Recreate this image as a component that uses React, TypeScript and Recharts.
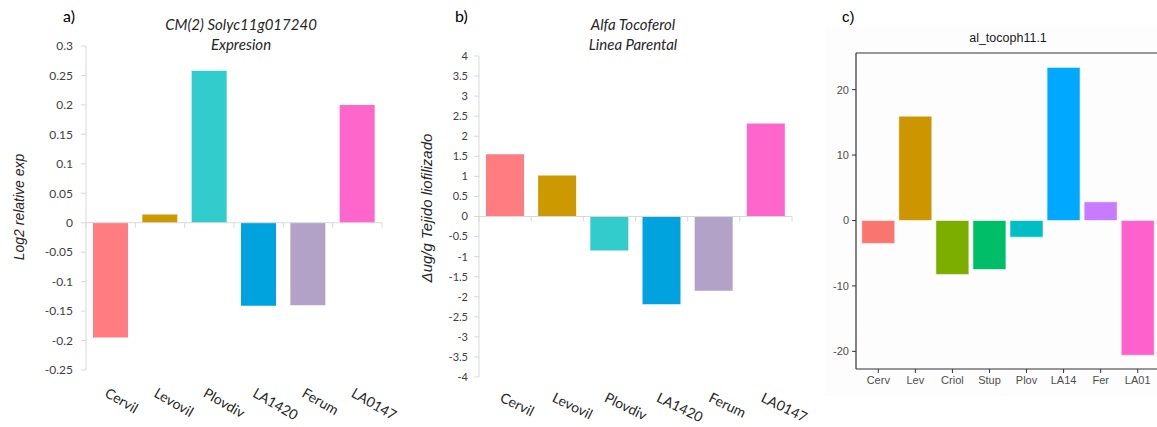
import React from 'react';
import { BarChart, Bar, XAxis, YAxis, Cell, ReferenceLine } from 'recharts';

// ---------- Panel a ----------
const catsA = ['Cervil', 'Levovil', 'Plovdiv', 'LA1420', 'Ferum', 'LA0147'];
const valsA = [-0.195, 0.014, 0.258, -0.141, -0.14, 0.2];
const colorsA = ['#FF7C80', '#CC9900', '#33CCCC', '#00A3DD', '#B3A2C7', '#FF66CC'];
const ticksA = [0.3, 0.25, 0.2, 0.15, 0.1, 0.05, 0, -0.05, -0.1, -0.15, -0.2, -0.25];
const tickLabelsA = ['0.3', '0.25', '0.2', '0.15', '0.1', '0.05', '0', '-0.05', '-0.1', '-0.15', '-0.2', '-0.25'];

// ---------- Panel b ----------
const catsB = ['Cervil', 'Levovil', 'Plovdiv', 'LA1420', 'Ferum', 'LA0147'];
const valsB = [1.55, 1.02, -0.85, -2.19, -1.85, 2.32];
const colorsB = ['#FF7C80', '#CC9900', '#33CCCC', '#00A3DD', '#B3A2C7', '#FF66CC'];
const ticksB = [4, 3.5, 3, 2.5, 2, 1.5, 1, 0.5, 0, -0.5, -1, -1.5, -2, -2.5, -3, -3.5, -4];
const tickLabelsB = ['4', '3.5', '3', '2.5', '2', '1.5', '1', '0.5', '0', '-0.5', '-1', '-1.5', '-2', '-2.5', '-3', '-3.5', '-4'];

// ---------- Panel c ----------
const catsC = ['Cerv', 'Lev', 'Criol', 'Stup', 'Plov', 'LA14', 'Fer', 'LA01'];
const valsC = [-3.5, 15.95, -8.25, -7.5, -2.55, 23.4, 2.85, -20.6];
const colorsC = ['#F8766D', '#CD9600', '#7CAE00', '#00BE67', '#00BFC4', '#00A9FF', '#C77CFF', '#FF61CC'];
const ticksC = [-20, -10, 0, 10, 20];
const domainC = [-22.7, 25.6];

const dataA = catsA.map((name, i) => ({ name, value: valsA[i] }));
const dataB = catsB.map((name, i) => ({ name, value: valsB[i] }));
const dataC = catsC.map((name, i) => ({ name, value: valsC[i] }));

const EXCEL_FONT = 'Lato, "Open Sans", sans-serif';
const ARIAL = '"Liberation Sans", Arial, sans-serif';
const AXIS_GRAY = '#D9D9D9';

const makeZeroLine = (n: number) => (props: any) => {
  const { x1, y1, x2, y2 } = props;
  const step = (x2 - x1) / n;
  return (
    <g>
      <line x1={x1} y1={y1} x2={x2} y2={y2} stroke={AXIS_GRAY} strokeWidth={1} />
      {Array.from({ length: n + 1 }, (_, i) => (
        <line key={i} x1={x1 + i * step} x2={x1 + i * step} y1={y1} y2={y1 + 5} stroke={AXIS_GRAY} strokeWidth={1} />
      ))}
    </g>
  );
};

const makeRotTick = (dx: number, dy: number, angle: number, size: number) => (props: any) => {
  const { x, y, payload } = props;
  const tx = x + dx;
  const ty = y + dy;
  return (
    <text x={tx} y={ty} transform={`rotate(${angle} ${tx} ${ty})`} textAnchor="start" fontFamily={EXCEL_FONT} fontSize={size} fill="#262626">
      {payload.value}
    </text>
  );
};

const makeYTickFmt = (ticks: number[], labels: string[]) => (v: number) => {
  const idx = ticks.findIndex((t) => Math.abs(t - v) < 1e-9);
  return idx >= 0 ? labels[idx] : String(v);
};

export default function App() {
  return (
    <div style={{ position: 'fixed', left: 0, top: 0, width: 1157, height: 427, overflow: 'hidden', background: '#fff' }}>
      {/* faint ggplot background for panel c */}
      <div style={{ position: 'absolute', left: 825, top: 27, width: 340, height: 369, background: '#FDFDFD' }} />

      {/* Panel a */}
      <div style={{ position: 'absolute', left: 0, top: 0 }}>
        <BarChart width={400} height={427} data={dataA} margin={{ top: 46, right: 18, bottom: 0, left: 0 }} style={{ overflow: 'visible' }}>
          <XAxis
            dataKey="name"
            height={57}
            axisLine={false}
            tickLine={false}
            tickSize={0}
            tickMargin={0}
            interval={0}
            tick={makeRotTick(-7, 26, 30, 14)}
          />
          <YAxis
            type="number"
            width={86}
            domain={[-0.25, 0.3]}
            ticks={ticksA}
            interval={0}
            tickFormatter={makeYTickFmt(ticksA, tickLabelsA)}
            axisLine={{ stroke: AXIS_GRAY }}
            tickLine={{ stroke: AXIS_GRAY }}
            tickSize={5}
            tickMargin={8}
            tick={{ fontFamily: EXCEL_FONT, fontSize: 12, fill: '#404040' }}
          />
          <Bar dataKey="value" barSize={35} isAnimationActive={false}>
            {dataA.map((d, i) => (
              <Cell key={d.name} fill={colorsA[i]} />
            ))}
          </Bar>
          <ReferenceLine y={0} shape={makeZeroLine(catsA.length)} />
        </BarChart>
      </div>

      {/* Panel b */}
      <div style={{ position: 'absolute', left: 400, top: 0 }}>
        <BarChart width={440} height={427} data={dataB} margin={{ top: 56, right: 48, bottom: 0, left: 0 }} style={{ overflow: 'visible' }}>
          <XAxis
            dataKey="name"
            height={50}
            axisLine={false}
            tickLine={false}
            tickSize={0}
            tickMargin={0}
            interval={0}
            tick={makeRotTick(-6, 24, 26, 14)}
          />
          <YAxis
            type="number"
            width={79}
            domain={[-4, 4]}
            ticks={ticksB}
            interval={0}
            tickFormatter={makeYTickFmt(ticksB, tickLabelsB)}
            axisLine={{ stroke: AXIS_GRAY }}
            tickLine={{ stroke: AXIS_GRAY }}
            tickSize={5}
            tickMargin={6}
            tick={{ fontFamily: EXCEL_FONT, fontSize: 11, fill: '#404040' }}
          />
          <Bar dataKey="value" barSize={38} isAnimationActive={false}>
            {dataB.map((d, i) => (
              <Cell key={d.name} fill={colorsB[i]} />
            ))}
          </Bar>
          <ReferenceLine y={0} shape={makeZeroLine(catsB.length)} />
        </BarChart>
      </div>

      {/* Panel c */}
      <div style={{ position: 'absolute', left: 820, top: 0 }}>
        <BarChart width={340} height={427} data={dataC} margin={{ top: 53, right: 0, bottom: 0, left: 0 }}>
          <XAxis
            dataKey="name"
            height={58}
            interval={0}
            padding={{ left: 3.75, right: 3.75 }}
            axisLine={{ stroke: '#333333', strokeWidth: 1.2 }}
            tickLine={{ stroke: '#333333' }}
            tickSize={4}
            tickMargin={3}
            tick={{ fontFamily: ARIAL, fontSize: 11, fill: '#4D4D4D' }}
          />
          <YAxis
            type="number"
            width={36}
            domain={domainC}
            allowDataOverflow
            ticks={ticksC}
            interval={0}
            axisLine={{ stroke: '#333333', strokeWidth: 1.2 }}
            tickLine={{ stroke: '#333333' }}
            tickSize={4}
            tickMargin={3}
            tick={{ fontFamily: ARIAL, fontSize: 11, fill: '#4D4D4D' }}
          />
          <Bar dataKey="value" barSize={33} stroke="#ffffff" strokeOpacity={0.7} strokeWidth={0.8} isAnimationActive={false}>
            {dataC.map((d, i) => (
              <Cell key={d.name} fill={colorsC[i]} />
            ))}
          </Bar>
          <ReferenceLine y={domainC[1]} stroke="#333333" strokeWidth={1} />
        </BarChart>
      </div>

      {/* Titles and axis labels */}
      <svg width={1157} height={427} style={{ position: 'absolute', left: 0, top: 0, pointerEvents: 'none' }}>
        <text x={63} y={22} fontFamily={EXCEL_FONT} fontSize={16} fill="#000">a)</text>
        <text x={241} y={30} textAnchor="middle" fontFamily={EXCEL_FONT} fontStyle="italic" fontSize={15} fill="#262626">CM(2) Solyc11g017240</text>
        <text x={241} y={50} textAnchor="middle" fontFamily={EXCEL_FONT} fontStyle="italic" fontSize={15} fill="#262626">Expresion</text>
        <text x={24} y={207} textAnchor="middle" transform="rotate(-90 24 207)" fontFamily={ARIAL} fontStyle="italic" fontSize={14} fill="#262626">Log2 relative exp</text>

        <text x={455} y={22} fontFamily={EXCEL_FONT} fontSize={16} fill="#000">b)</text>
        <text x={633} y={30} textAnchor="middle" fontFamily={EXCEL_FONT} fontStyle="italic" fontSize={15} fill="#262626">Alfa Tocoferol</text>
        <text x={633} y={50} textAnchor="middle" fontFamily={EXCEL_FONT} fontStyle="italic" fontSize={15} fill="#262626">Linea Parental</text>
        <text x={432} y={208} textAnchor="middle" transform="rotate(-90 432 208)" fontFamily={ARIAL} fontStyle="italic" fontSize={15} fill="#262626">Δug/g Tejido liofilizado</text>

        <text x={842} y={22} fontFamily={ARIAL} fontSize={15} fill="#000">c)</text>
        <text x={1008} y={42} textAnchor="middle" fontFamily={ARIAL} fontSize={12.5} fill="#1A1A1A">al_tocoph11.1</text>
      </svg>
    </div>
  );
}
